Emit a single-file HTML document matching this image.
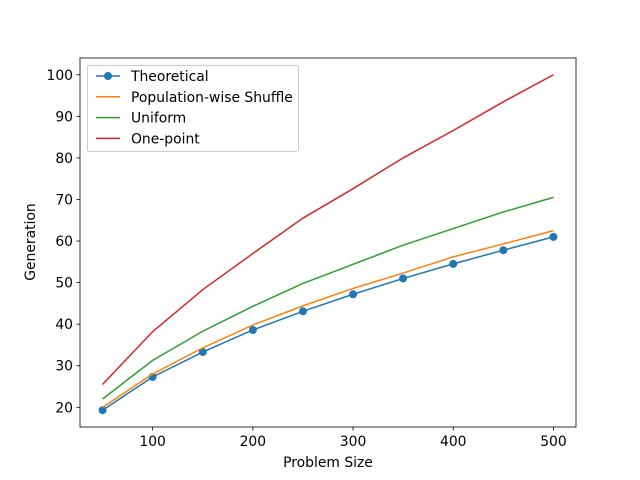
<!DOCTYPE html>
<html><head><meta charset="utf-8"><style>body{margin:0;background:#fff}svg{display:block;font-family:"DejaVu Sans","Liberation Sans",sans-serif}</style></head>
<body>
<svg id="chart" width="640" height="480" xmlns="http://www.w3.org/2000/svg"></svg>
<script>
const sizes = [50,100,150,200,250,300,350,400,450,500];
const theoretical = [19.3,27.3,33.3,38.6,43.1,47.2,51.0,54.5,57.8,61.0];
const popShuffle = [20.0,28.0,34.3,39.8,44.4,48.6,52.3,56.2,59.3,62.5];
const uniform = [22.0,31.3,38.3,44.3,49.8,54.4,59.0,63.0,67.0,70.5];
const onePoint = [25.5,38.2,48.3,57.0,65.5,72.6,80.0,86.6,93.5,100.0];
const xTicks = [100,200,300,400,500];
const yTicks = [20,30,40,50,60,70,80,90,100];
const seriesNames = ["Theoretical","Population-wise Shuffle","Uniform","One-point"];

const svg = document.getElementById('chart');
const NS = "http://www.w3.org/2000/svg";
const L=80,R=576,T=58,B=427;
const FS=13.9;
const all=[].concat(theoretical,popShuffle,uniform,onePoint);
const xmin=Math.min(...sizes),xmax=Math.max(...sizes);
const ymin=Math.min(...all),ymax=Math.max(...all);
const xm=(xmax-xmin)*0.05, ym=(ymax-ymin)*0.05;
const sx=v=>L+(v-(xmin-xm))/((xmax+xm)-(xmin-xm))*(R-L);
const sy=v=>B-(v-(ymin-ym))/((ymax+ym)-(ymin-ym))*(B-T);
function mk(tag,attrs,parent){const e=document.createElementNS(NS,tag);for(const k in attrs)e.setAttribute(k,attrs[k]);(parent||svg).appendChild(e);return e;}

const colors=["#1f77b4","#ff7f0e","#2ca02c","#d62728"];
const data=[theoretical,popShuffle,uniform,onePoint];
data.forEach((s,i)=>{
  const p=mk('polyline',{points:s.map((v,j)=>sx(sizes[j])+','+sy(v)).join(' '),fill:'none',stroke:colors[i],'stroke-width':1.5});
  
  
  if(i===0){s.forEach((v,j)=>{
    const c=mk('circle',{cx:sx(sizes[j]),cy:sy(v),r:4,fill:colors[0]});
    
    
  });}
});

const frame=mk('rect',{x:L,y:T,width:R-L,height:B-T,fill:'none',stroke:'#000','stroke-width':0.8});



xTicks.forEach(t=>{
  const x=sx(t);
  mk('line',{x1:x,x2:x,y1:B,y2:B+3.5,stroke:'#000','stroke-width':0.8});
  const tx=mk('text',{x:x,y:B+19,'text-anchor':'middle','font-size':FS});
  tx.textContent=t;
  
  
});
yTicks.forEach(t=>{
  const y=sy(t);
  mk('line',{x1:L-3.5,x2:L,y1:y,y2:y,stroke:'#000','stroke-width':0.8});
  const tx=mk('text',{x:L-7,y:y+5,'text-anchor':'end','font-size':FS});
  tx.textContent=t;
  
  
});
const xt=mk('text',{x:(L+R)/2,y:467,'text-anchor':'middle','font-size':FS});
xt.textContent='Problem Size';


const yt=mk('text',{x:0,y:0,'text-anchor':'middle','font-size':FS,transform:'translate(35,242) rotate(-90)'});
yt.textContent='Generation';



const lg=mk('g',{});


mk('rect',{x:87.5,y:65.5,width:211,height:86,rx:2,fill:'#fff','fill-opacity':0.8,stroke:'#ccc'},lg);
seriesNames.forEach((n,i)=>{
  const y=76+i*20.8;
  mk('line',{x1:96,x2:120,y1:y,y2:y,stroke:colors[i],'stroke-width':1.5},lg);
  if(i===0)mk('circle',{cx:108,cy:y,r:4,fill:colors[0]},lg);
  const t=mk('text',{x:131,y:y+5,'font-size':FS},lg);
  t.textContent=n;
  
  
});
</script>
</body></html>
